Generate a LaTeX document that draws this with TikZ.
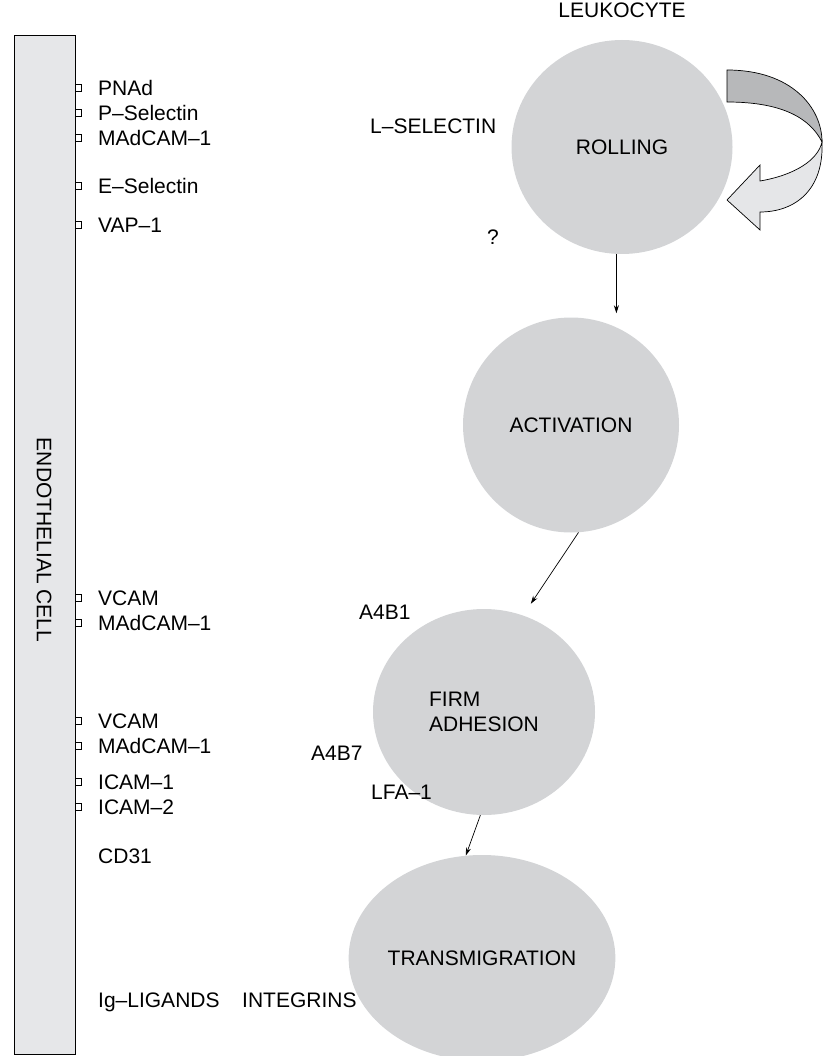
\documentclass[tikz,border=0pt]{standalone}
\usepackage{fontspec}
\setmainfont{Liberation Sans}
\usetikzlibrary{shapes.geometric,arrows.meta}
\definecolor{cellgray}{RGB}{211,212,214}
\definecolor{bargray}{RGB}{230,231,233}
\definecolor{banddark}{RGB}{183,184,186}
\definecolor{bandlight}{RGB}{229,230,232}
\begin{document}
\begin{tikzpicture}[x=1pt,y=-1pt,font=\fontsize{21}{25}\selectfont]

\def\lx{98}
\tikzstyle{lab} = [anchor=west, inner sep=0pt, text height=15pt, text depth=0pt];
\tikzstyle{site} = [draw, fill=white, rectangle, line width=.6pt,
	minimum width=6pt, minimum height=7pt, inner sep=0pt];
\tikzstyle{cell} = [ellipse, fill=cellgray, draw=none, inner sep=0pt, align=left];
\tikzstyle{arr} = [-{Stealth[length=8pt,width=5pt]}, line width=.7pt];
\useasboundingbox (0,0) rectangle (822,1056);

% endothelial cell
\draw[fill=bargray, line width=.8pt] (14,35) rectangle (75,1054);
\node[rotate=-90] (endo) at (44,540) {ENDOTHELIAL CELL};

\node[site] (s1) at (78.5,88) {};
\node[site] (s2) at (78.5,113) {};
\node[site] (s3) at (78.5,138) {};
\node[site] (s4) at (78.5,186) {};
\node[site] (s5) at (78.5,225) {};
\node[site] (s6) at (78.5,598) {};
\node[site] (s7) at (78.5,623) {};
\node[site] (s8) at (78.5,721) {};
\node[site] (s9) at (78.5,746) {};
\node[site] (s10) at (78.5,782) {};
\node[site] (s11) at (78.5,807) {};

\node[lab] (l1) at (\lx,88) {PNAd};
\node[lab] (l2) at (\lx,113) {P–Selectin};
\node[lab] (l3) at (\lx,138) {MAdCAM–1};
\node[lab] (l4) at (\lx,186) {E–Selectin};
\node[lab] (l5) at (\lx,225) {VAP–1};
\node[lab] (l6) at (\lx,598) {VCAM};
\node[lab] (l7) at (\lx,623) {MAdCAM–1};
\node[lab] (l8) at (\lx,721) {VCAM};
\node[lab] (l9) at (\lx,746) {MAdCAM–1};
\node[lab] (l10) at (\lx,782) {ICAM–1};
\node[lab] (l11) at (\lx,807) {ICAM–2};
\node[lab] (cd) at (\lx,856) {CD31};
\node[lab] (ig) at (\lx,1000) {Ig–LIGANDS};

% leukocyte stages
\node[cell, minimum width=221pt, minimum height=214pt] (roll) at (622,147) {ROLLING};
\node[cell, minimum width=216pt, minimum height=215pt] (act) at (571,425) {ACTIVATION};
\node[cell, minimum width=222pt, minimum height=206pt] (firm) at (484,712) {FIRM\\ADHESION};
\node[cell, minimum width=241pt, minimum height=206pt] (trans) at (482,958) {TRANSMIGRATION};

\node[above of=roll, node distance=137pt] (leuko) {LEUKOCYTE};
\node[lab] (lsel) at (370,126) {L–SELECTIN};
\node[lab] (q) at (487,237) {?};
\node[lab] (a4b1) at (359,612) {A4B1};
\node[lab] (a4b7) at (311,753) {A4B7};
\node[lab] (lfa) at (371,792) {LFA–1};
\node[lab] (integ) at (242,1000) {INTEGRINS};

\draw[arr] (roll.-93) -- (roll.-93 |- act.north) [shorten >=4pt];
\draw[arr, shorten >=14pt] (act.-86) -- (firm.68);
\draw[arr] (firm.-92) -- (trans.99);

% rolling loop arrow
\draw[fill=banddark, line width=.7pt] (727,70) .. controls (792,70) and (822,108) .. (822,142)
	.. controls (810,118) and (782,102) .. (727,102) -- cycle;
\draw[fill=bandlight, line width=.7pt] (822,142) .. controls (824,190) and (795,212) .. (760,212)
	-- (760,230) -- (727,200) -- (760,165) -- (760,181)
	.. controls (795,175) and (818,160) .. (822,142) -- cycle;

\end{tikzpicture}
\end{document}
